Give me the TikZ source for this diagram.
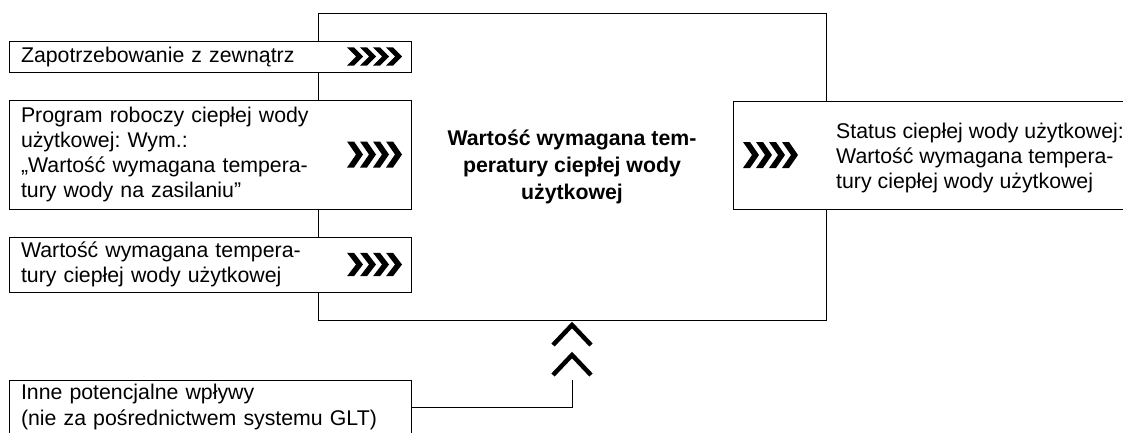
\documentclass[tikz,border=0pt]{standalone}
\usepackage{fontspec}
\setmainfont{Liberation Sans}
\frenchspacing
\begin{document}
\begin{tikzpicture}[x=1pt, y=-1pt,
  box/.style={draw, fill=white, line width=1pt, inner sep=0pt, outer sep=0pt},
  txt/.style={font=\fontsize{21.3}{25.3}\selectfont, text=black},
  inbox/.style={box, txt, anchor=north west, minimum width=402pt,
    text width=378pt, align=left, inner xsep=12pt, inner ysep=0pt},
  % four heavy chevrons pointing right, origin at their left middle
  chev/.pic={\foreach \i in {0,1,2,3}{
      \fill[xshift=\i*13pt] (0,-13) -- (7,-13) -- (16,0) -- (7,13) -- (0,13) -- (9,0) -- cycle;}},
  % open chevron pointing up, origin at its apex
  upchev/.pic={\draw[line width=4.5pt, line join=miter] (-19,20) -- (0,0) -- (19,20);},
]
\useasboundingbox (0,0) rectangle (1123,432);
\clip (0,0) rectangle (1123,432);

% central function block
\node[box, minimum width=508pt, minimum height=307pt, align=center,
  font=\bfseries\fontsize{21.3}{27}\selectfont] (main) at (572,166.5)
  {Wartość wymagana tem-\\peratury ciepłej wody\\użytkowej};

% inputs
\node[inbox, minimum height=31pt] (in1) at (9,41) {Zapotrzebowanie z zewnątrz};
\node[inbox, minimum height=109pt] (in2) at (9,100)
  {Program roboczy ciepłej wody\\użytkowej: Wym.:\\„Wartość wymagana tempera-\\tury wody na zasilaniu”};
\node[inbox, minimum height=55pt] (in3) at (9,237)
  {Wartość wymagana tempera-\\tury ciepłej wody użytkowej};
\pic[yscale=0.7] at ([xshift=-64pt]in1.east) {chev};
\pic at ([xshift=-64pt]in2.east) {chev};
\pic[yscale=0.9] at ([xshift=-64pt]in3.east) {chev};

% output
\node[box, anchor=north west, minimum width=400pt, minimum height=108pt] (out) at (733,101) {};
\node[txt, anchor=west, align=left, inner sep=0pt] (outtxt) at (836,158)
  {Status ciepłej wody użytkowej:\\Wartość wymagana tempera-\\tury ciepłej wody użytkowej};
\pic at ([xshift=10pt]out.west) {chev};

% other influences from below
\node[inbox, minimum height=54pt] (other) at (9,380)
  {Inne potencjalne wpływy\\(nie za pośrednictwem systemu GLT)};
\coordinate (tip) at (572,380);
\draw[line width=1pt] (other.east) -| (tip);
\pic at (572,355) {upchev};
\pic at (572,325) {upchev};
\end{tikzpicture}
\end{document}
